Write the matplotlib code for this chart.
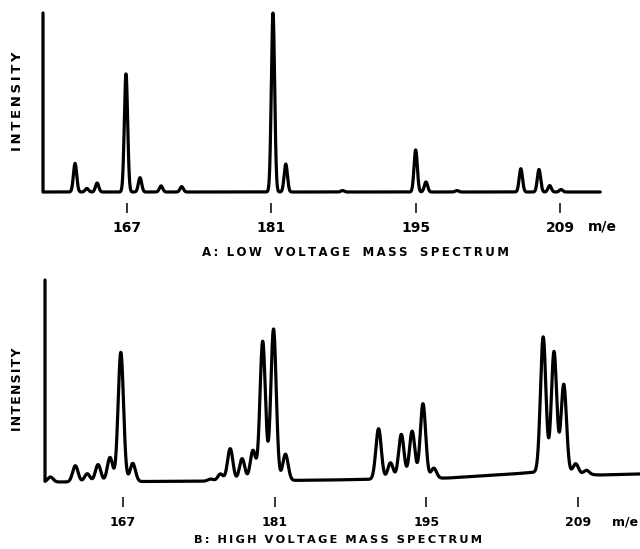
import numpy as np
import matplotlib
matplotlib.use("Agg")
import matplotlib.pyplot as plt

# ---- Spectrum A: low voltage ----
a_start = 158.85          # pen start (full-scale spike)
a_end = 212.9
a_mz = [161.96, 163.1, 164.1, 166.9, 168.26, 170.3, 172.3, 181.16, 182.4,
        187.9, 195.0, 196.0, 199.0, 205.2, 206.96, 208.0, 209.1]
a_int = [16, 2, 5, 66, 8, 3.4, 3, 100, 15.6,
         0.8, 23.5, 5.6, 0.8, 13, 12.6, 3.6, 1.4]

# ---- Spectrum B: high voltage ----
b_start = 159.8
b_end = 214.74
b_mz = [160.3, 162.6, 163.7, 164.7, 165.8, 166.8, 167.9,
        175.1, 176.0, 176.9, 178.0, 179.0, 179.9, 180.9, 182.0,
        190.6, 191.7, 192.7, 193.7, 194.7, 195.7,
        205.8, 206.8, 207.7, 208.8, 209.8]
b_int = [2.5, 8, 4, 8.5, 12, 64, 9,
         1, 3.5, 16, 11, 15, 69, 75, 13,
         25, 8, 22, 23.5, 37, 5,
         67, 60, 44, 5, 2]
b_base_mz = [159.8, 176, 186, 197, 203, 205.3, 211, 214.74]
b_base_lvl = [0, 0.5, 1, 2, 4, 5, 3.5, 4]

tick_mz = [167, 181, 195, 209]
tick_labels = ["167", "181", "195", "209"]

W, H = 640, 549
fig = plt.figure(figsize=(W / 100, H / 100), dpi=100)
fig.patch.set_facecolor("white")


def px_axes(left, right, top, bottom):
    return fig.add_axes([left / W, 1 - bottom / H, (right - left) / W, (bottom - top) / H])


def spectrum(start, end, mz, inten, sigma, base_mz=None, base_lvl=None):
    x = np.linspace(start, end, 4000)
    if base_mz is None:
        y = np.zeros_like(x)
    else:
        y = np.interp(x, base_mz, base_lvl)
    for c, h in zip(mz, inten):
        y = y + h * np.exp(-0.5 * ((x - c) / sigma) ** 2)
    # the record begins with the pen at full scale
    x = np.concatenate([[start], x])
    y = np.concatenate([[100.0], y])
    return x, y


def style(ax, xlim, ylim, labelsize, pad, length):
    ax.set_xlim(*xlim)
    ax.set_ylim(*ylim)
    for s in ax.spines.values():
        s.set_visible(False)
    ax.set_yticks([])
    ax.set_xticks(tick_mz)
    ax.set_xticklabels(tick_labels, fontweight="bold", fontsize=labelsize)
    ax.tick_params(axis="x", direction="out", length=length, width=1.1,
                   pad=pad, color="black")
    ax.patch.set_alpha(0)


def spaced(text, letter_gap="\u2009", word_gap="   "):
    """Wide lettering: extra space between letters and between words."""
    words = text.split(" ")
    return word_gap.join(letter_gap.join(w) for w in words)


lw = 2.3

# Panel A
axA = px_axes(39.4, 606.4, 9.42, 203.0)
xa, ya = spectrum(a_start, a_end, a_mz, a_int, 0.16)
axA.plot(xa, ya, color="black", lw=lw, solid_joinstyle="round", solid_capstyle="round")
style(axA, (158.5, 213.5), (-6.15, 102), 10, 6.0, 7.2)

# Panel B
axB = px_axes(39.6, 640, 276, 497)
xb, yb = spectrum(b_start, b_end, b_mz, b_int, 0.25, b_base_mz, b_base_lvl)
axB.plot(xb, yb, color="black", lw=lw, solid_joinstyle="round", solid_capstyle="round")
style(axB, (159.3, 214.74), (-7.4, 102), 9, 6.0, 7.5)

bold = dict(fontweight="bold", color="black")
fig.text(18 / W, 1 - 101 / H, spaced("INTENSITY"), rotation=90, ha="center",
         va="center", fontsize=9.5, **bold)
fig.text(18 / W, 1 - 389 / H, spaced("INTENSITY", "\u200a"), rotation=90,
         ha="center", va="center", fontsize=9, **bold)
fig.text(602 / W, 1 - 227 / H, "m/e", ha="center", va="center", fontsize=10, **bold)
fig.text(625 / W, 1 - 522 / H, "m/e", ha="center", va="center", fontsize=9, **bold)

title_a = spaced("A: LOW VOLTAGE MASS SPECTRUM").replace(":   ", ":  ")
title_b = spaced("B: HIGH VOLTAGE MASS SPECTRUM", word_gap="  ")
fig.text(355 / W, 1 - 253 / H, title_a, ha="center", va="center", fontsize=8.5, **bold)
fig.text(337.5 / W, 1 - 540 / H, title_b, ha="center", va="center", fontsize=8.2, **bold)

fig.savefig("out.png", dpi=100, facecolor="white")
